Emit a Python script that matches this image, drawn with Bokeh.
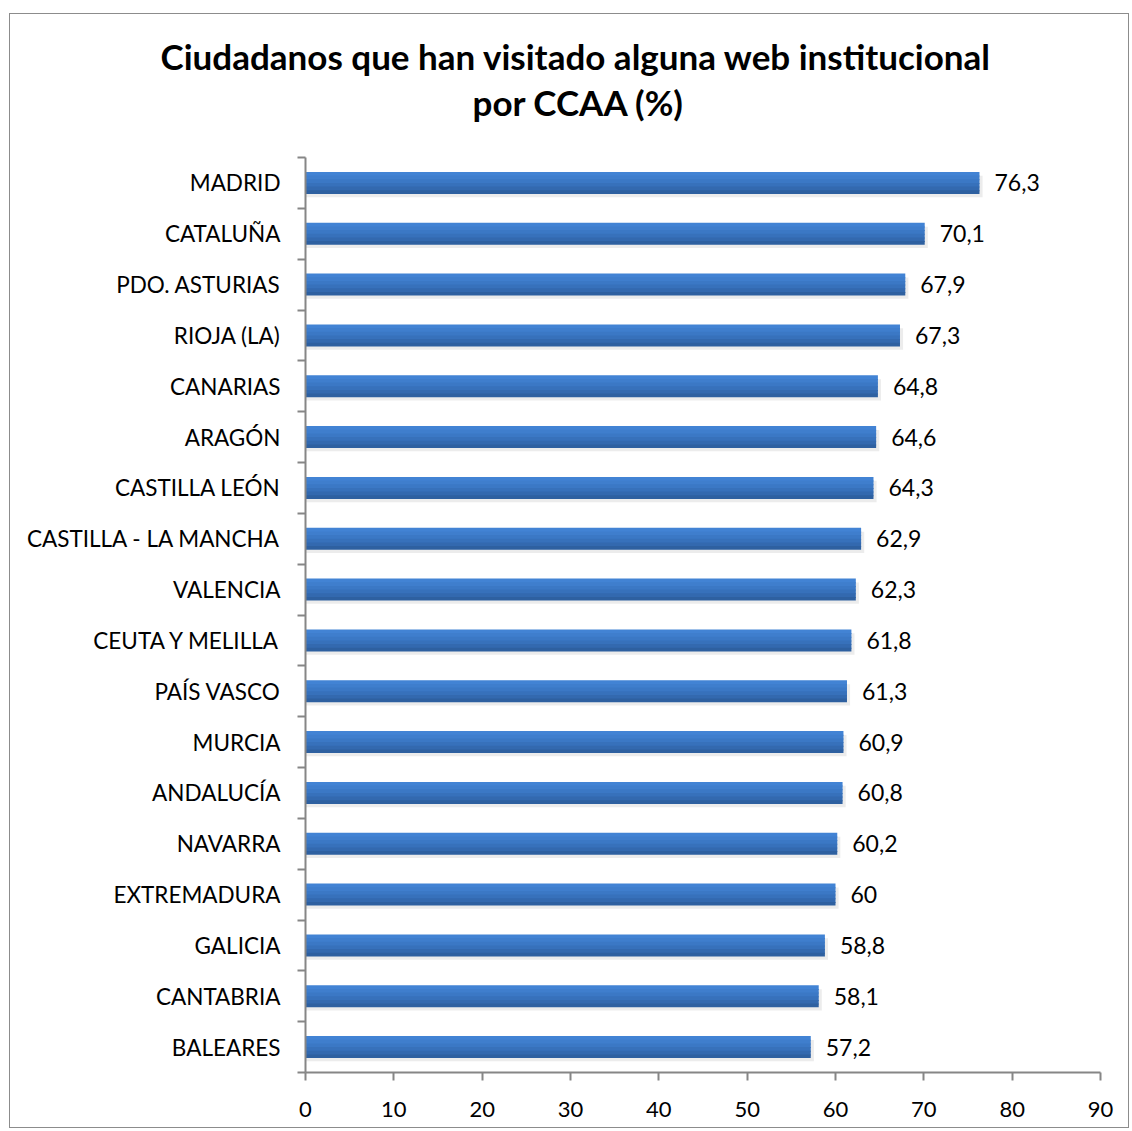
from bokeh.plotting import figure
from bokeh.models import Range1d, FixedTicker, ColumnDataSource, Title
from bokeh.core.properties import value
from bokeh.embed import file_html
from bokeh.resources import INLINE

categories = ["MADRID", "CATALUÑA", "PDO. ASTURIAS", "RIOJA (LA)", "CANARIAS", "ARAGÓN",
              "CASTILLA LEÓN", "CASTILLA - LA MANCHA", "VALENCIA", "CEUTA Y MELILLA",
              "PAÍS VASCO", "MURCIA", "ANDALUCÍA", "NAVARRA", "EXTREMADURA", "GALICIA",
              "CANTABRIA", "BALEARES"]
values = [76.3, 70.1, 67.9, 67.3, 64.8, 64.6, 64.3, 62.9, 62.3, 61.8, 61.3, 60.9, 60.8,
          60.2, 60, 58.8, 58.1, 57.2]
x_ticks = [0, 10, 20, 30, 40, 50, 60, 70, 80, 90]
title_lines = ["Ciudadanos que han visitado alguna web institucional", "por CCAA (%)"]

n = len(categories)
ypos = [n - i - 0.5 for i in range(n)]
labels = [str(v).replace(".", ",") if v != int(v) else str(int(v)) for v in values]
src = ColumnDataSource(dict(y=ypos, v=values, lab=labels))

FONT = "Lato"
W, H = 1120, 1115
ML, MR, MT, MB = 295, 30, 143, 57
p = figure(width=W, height=H, output_backend="svg", toolbar_location=None,
           x_range=Range1d(0, 90), y_range=Range1d(0, n),
           min_border_left=ML, min_border_right=MR, min_border_top=MT, min_border_bottom=MB,
           styles={"border": "1px solid #8c8c8c", "margin-left": "9px", "margin-top": "13px"})
p.outline_line_color = None
p.grid.visible = False
p.background_fill_color = "white"

# spacer between frame and title
p.add_layout(Title(text=" ", text_font=FONT, text_font_size="27px", standoff=0), "above")
# title: second line nearest the frame, added first
p.add_layout(Title(text=title_lines[1], text_font=FONT, text_font_size="35px",
                   text_font_style="bold", align="left", offset=167, standoff=0,
                   text_color="#000000"), "above")
p.add_layout(Title(text=title_lines[0], text_font=FONT, text_font_size="35px",
                   text_font_style="bold", align="left", offset=-145, standoff=3,
                   text_color="#000000"), "above")

# shadow
p.hbar(y=[y - 0.07 for y in ypos], right=[v + 0.35 for v in values], left=0, height=0.42,
       fill_color="#c8c8c8", fill_alpha=0.35, line_color=None)

# bar gradient approximated with strips
bh = 0.433
colors = ["#4283d4", "#3f7ecd", "#3b78c5", "#3771bb", "#3369af", "#2e60a0"]
k = len(colors)
for j, c in enumerate(colors):
    off = bh / 2 - bh / k * (j + 0.5)
    hh = bh / k + (0.02 if j < k - 1 else 0.0)
    p.hbar(y=[y + off - (0.01 if j < k - 1 else 0.0) for y in ypos], right=values, left=0,
           height=hh, fill_color=c, line_color=None)

p.text(x="v", y="y", text="lab", source=src, x_offset=15, text_align="left",
       text_baseline="middle", text_font=value(FONT), text_font_size="23px", text_color="#000000")

# axes
xa = p.xaxis[0]
xa.ticker = FixedTicker(ticks=x_ticks)
xa.axis_line_color = "#868686"
xa.axis_line_width = 2
xa.major_tick_line_color = "#868686"
xa.major_tick_line_width = 2
xa.major_tick_out = 8
xa.major_tick_in = 0
xa.minor_tick_line_color = None
xa.major_label_standoff = 21
xa.major_label_text_font = FONT
xa.major_label_text_font_size = "22px"
xa.major_label_text_color = "#000000"

ya = p.yaxis[0]
ya.ticker = FixedTicker(ticks=ypos, minor_ticks=list(range(n + 1)))
ya.major_label_overrides = {float(y): c for y, c in zip(ypos, categories)}
ya.axis_line_color = "#868686"
ya.axis_line_width = 2
ya.major_tick_line_color = None
ya.major_tick_out = 0
ya.major_tick_in = 0
ya.minor_tick_line_color = "#868686"
ya.minor_tick_line_width = 2
ya.minor_tick_out = 8
ya.minor_tick_in = 0
ya.major_label_standoff = 17
ya.major_label_text_font = FONT
ya.major_label_text_font_size = "22.5px"
ya.major_label_text_color = "#000000"

open("out.html", "w").write(file_html(p, INLINE))
